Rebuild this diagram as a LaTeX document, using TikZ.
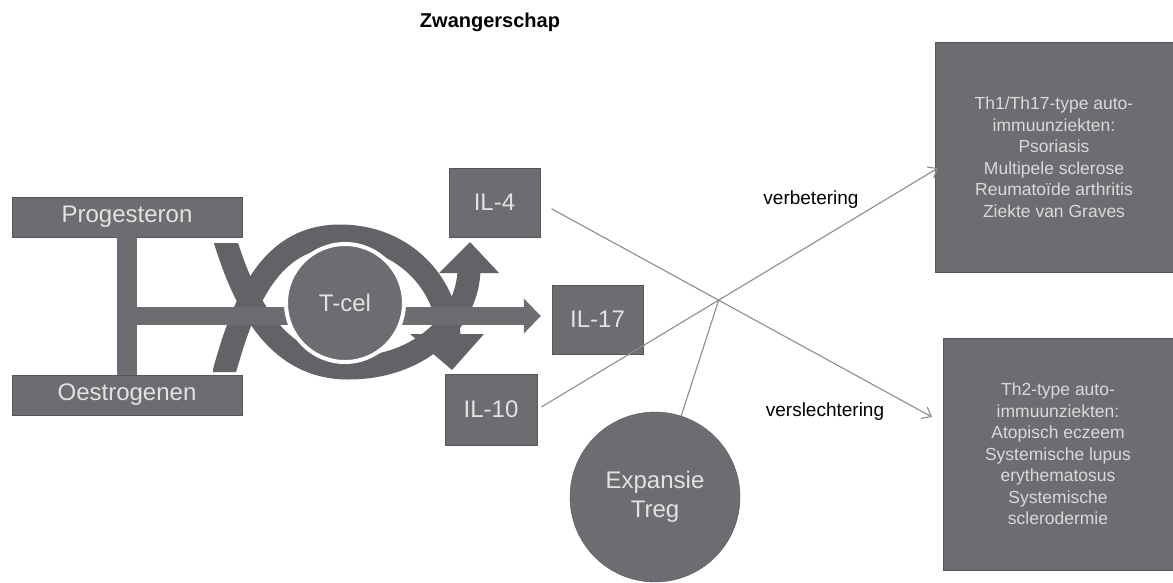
\documentclass[tikz,border=0pt]{standalone}
\usepackage{fontspec}
\setmainfont{Liberation Sans}
\usetikzlibrary{arrows.meta}
\definecolor{boxgray}{RGB}{108,109,112}
\definecolor{eyegray}{RGB}{98,99,102}
\definecolor{boxtext}{RGB}{226,226,226}
\definecolor{linkgray}{RGB}{140,140,140}

\begin{document}
\begin{tikzpicture}[x=1pt,y=-1pt,>={Straight Barb[length=8pt,width=13pt]},line cap=butt,
  box/.style={fill=boxgray,draw=boxgray!80!black,text=boxtext,inner sep=0pt,font=\fontsize{24}{29}\selectfont},
  bigbox/.style={box,align=center,text=boxtext!92!boxgray,font=\fontsize{17.5}{21.5}\selectfont},
  blob/.style={box,circle,align=center},
  band/.style={eyegray,line width=23pt},
  link/.style={linkgray,line width=1.1pt},
  remark/.style={font=\fontsize{19}{23}\selectfont}]
\useasboundingbox (0,0) rectangle (1173,582);
\node[font=\bfseries\fontsize{20}{24}\selectfont] (title) at (490,22) {Zwangerschap};
% hormones
\node[box,minimum width=230pt,minimum height=40pt] (prog) at (127,217) {Progesteron};
\node[box,minimum width=230pt,minimum height=40pt] (oestr) at (127,395) {Oestrogenen};
% cytokines
\node[box,minimum width=91pt,minimum height=69pt] (il4) at (494.5,202.5) {IL-4};
\node[box,minimum width=91pt,minimum height=69pt] (il17) at (597.5,319.5) {IL-17};
\node[box,minimum width=92pt,minimum height=71pt] (il10) at (491,409.5) {IL-10};
% eye of circular arrows
\begin{scope}
\clip (213,243) -- (255,243) -- (255,150) -- (620,150) -- (620,450) -- (255,450) -- (255,372) -- (213,372) -- cycle;
\draw[band] (218,395) .. controls (240,310) and (265,236) .. (340,236) .. controls (405,236) and (447,285) .. (449,336);
\draw[band] (218,215) .. controls (240,300) and (275,368) .. (348,368) .. controls (420,368) and (466,322) .. (469,272);
\end{scope}
\fill[eyegray] (410,334) -- (484,334) -- (452,370) -- cycle;
\fill[eyegray] (439,273) -- (499,273) -- (470,242) -- cycle;
\draw[boxgray,line width=20pt] (prog.south) -- (oestr.north);
\coordinate (split) at (127,316);
\draw[boxgray,line width=18pt,-{Triangle[length=17pt,width=34pt]},shorten >=11pt] (split) -- (split -| il17.west);
\node[blob,draw=white,line width=4pt,minimum size=118pt] (tcel) at (345,303) {T-cel};
% diseases
\node[bigbox,minimum width=238pt,minimum height=230pt] (th1) at (1054,157)
  {Th1/Th17-type auto-\\immuunziekten:\\Psoriasis\\Multipele sclerose\\Reumatoïde arthritis\\Ziekte van Graves};
\node[bigbox,minimum width=230pt,minimum height=232pt] (th2) at (1058,454)
  {Th2-type auto-\\immuunziekten:\\Atopisch eczeem\\Systemische lupus\\erythematosus\\Systemische\\sclerodermie};
\node[blob,minimum size=170pt] (treg) at (655,497) {Expansie\\Treg};
% effects
\coordinate (better) at (938,168);
\coordinate (worse) at (932,417);
\draw[link,->,shorten <=13pt] (il4.east) -- (worse);
\draw[link,->,shorten <=5pt] (il10.east) -- (better);
\coordinate (cross) at (intersection of il4.east--worse and il10.east--better);
\draw[link] (treg) -- (cross);
\node[remark] (lbetter) at (811,200) {verbetering};
\node[remark] (lworse) at (825,412) {verslechtering};
\end{tikzpicture}
\end{document}
